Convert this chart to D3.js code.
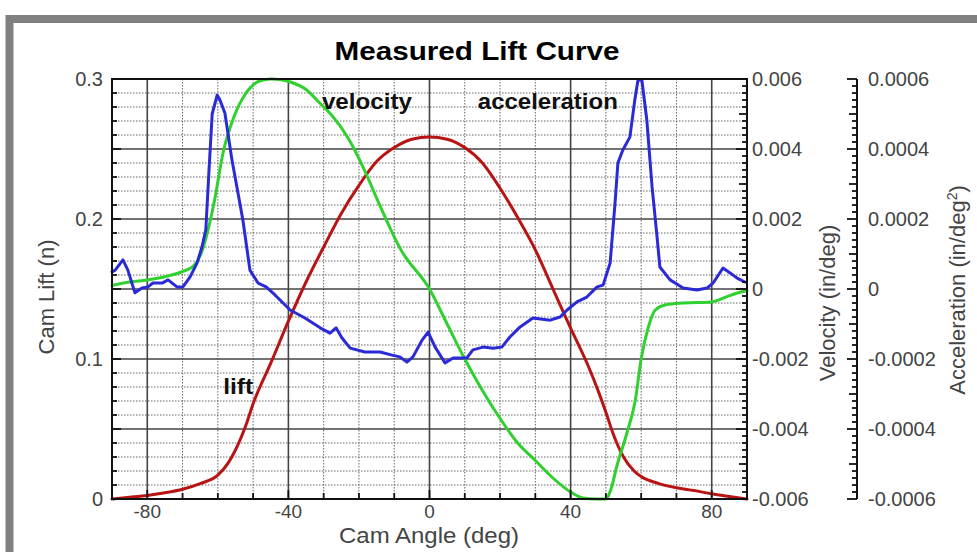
<!DOCTYPE html>
<html>
<head>
<meta charset="utf-8">
<script src="https://cdn.jsdelivr.net/npm/d3@7"></script>
<style>
  html, body { margin: 0; padding: 0; background: #fff; }
  svg { display: block; }
  text { font-family: "Liberation Sans", Arial, sans-serif; }
</style>
</head>
<body>
<svg id="chart" width="977" height="552"></svg>
<script>
// ---------- data ----------
const title = "Measured Lift Curve";
const xTickValues = [-80, -40, 0, 40, 80];
const xTickLabels = ["-80", "-40", "0", "40", "80"];
const liftTickValues = [0, 0.1, 0.2, 0.3];
const liftTickLabels = ["0", "0.1", "0.2", "0.3"];
const velTickValues = [-0.006, -0.004, -0.002, 0, 0.002, 0.004, 0.006];
const velTickLabels = ["-0.006", "-0.004", "-0.002", "0", "0.002", "0.004", "0.006"];
const accTickValues = [-0.0006, -0.0004, -0.0002, 0, 0.0002, 0.0004, 0.0006];
const accTickLabels = ["-0.0006", "-0.0004", "-0.0002", "0", "0.0002", "0.0004", "0.0006"];

const liftAngle = [-90,-85,-80,-75,-70,-65,-60,-57,-55,-52,-50,-45,-40,-35,-30,-25,-20,-15,-10,-5,0,5,10,15,20,25,30,35,40,45,48,50,52,55,58,60,65,70,75,80,85,90];
const liftValue = [0.000,0.0012,0.0025,0.0045,0.007,0.011,0.017,0.026,0.035,0.053,0.068,0.097,0.127,0.155,0.180,0.204,0.224,0.241,0.251,0.257,0.2586,0.257,0.251,0.240,0.222,0.201,0.178,0.150,0.122,0.095,0.076,0.062,0.047,0.030,0.020,0.016,0.011,0.008,0.006,0.0037,0.0018,0.000];

const velAngle = [-90,-85,-80,-75,-70,-67,-65,-63,-61,-58.5,-55.5,-52,-48,-45,-42,-39,-35,-31,-28,-23,-18,-15,-8,0,5,10,15,20,25,30,35,40,43.5,47,50,51.5,53,56,58.3,60,62,64,67,72,80,84,87,90];
const velValue = [0.00010,0.00020,0.00026,0.00035,0.00050,0.00065,0.00095,0.0016,0.0025,0.0039,0.0049,0.0056,0.00595,0.0060,0.00598,0.0059,0.0057,0.0053,0.0050,0.0043,0.0033,0.0026,0.0011,0.0000,-0.0010,-0.0020,-0.0029,-0.0037,-0.0044,-0.0049,-0.0054,-0.0058,-0.00597,-0.0060,-0.0060,-0.0057,-0.0051,-0.0041,-0.0032,-0.0020,-0.0011,-0.0006,-0.00045,-0.00040,-0.00037,-0.00023,-0.00012,-0.00005];

const accAngle = [-90,-89.1,-86.9,-85.5,-83.5,-81.5,-79.8,-78.4,-75.8,-74.1,-71.6,-69.9,-67.9,-65.9,-64.5,-63.4,-62.5,-61.6,-60.2,-59.4,-58.0,-56.0,-52.9,-50.9,-48.6,-46.3,-43.8,-39.5,-35.3,-31.0,-28.2,-26.5,-24.8,-22.5,-18.3,-14.0,-10.6,-8.4,-6.4,-4.7,-2.1,-0.4,1.6,4.4,6.7,10.6,12.3,15.2,18.0,20.5,22.8,25.6,29.3,34.2,37.0,39.0,41.8,44.6,47.5,49.2,51.2,52.6,53.4,54.8,56.8,58.2,59.1,60.2,61.6,63.1,64.5,65.3,68.2,71.9,75.8,78.7,80.4,83.2,85.2,87.2,89.4];
const accValue = [0.000049,0.000054,0.000083,0.000054,-0.000011,0.000003,0.000006,0.000017,0.000017,0.000026,0.000006,0.000006,0.000034,0.000074,0.00012,0.00017,0.00034,0.0005,0.000554,0.00054,0.000503,0.000369,0.000197,0.000054,0.000017,0.000006,-0.000017,-0.00006,-0.000083,-0.000111,-0.000126,-0.000111,-0.00014,-0.000169,-0.00018,-0.00018,-0.000189,-0.000194,-0.000209,-0.000194,-0.000146,-0.000123,-0.000166,-0.000211,-0.000197,-0.000197,-0.000174,-0.000166,-0.000169,-0.000166,-0.000137,-0.000109,-0.000083,-0.000089,-0.00008,-0.00006,-0.000037,-0.000023,0.000006,0.000011,0.000074,0.000246,0.00036,0.000397,0.000434,0.00054,0.000597,0.000597,0.000483,0.000291,0.000149,0.000063,0.000026,0.000003,-0.000003,0.000003,0.000017,0.00006,0.000046,0.000031,0.00002];

const curveLabels = [
  { text: "velocity", deg: -30.5, lift: 0.2785, len: 90 },
  { text: "acceleration", deg: 13.7, lift: 0.2785, len: 140 },
  { text: "lift", deg: -58.5, lift: 0.075, len: 30 }
];

// ---------- layout ----------
const svg = d3.select("#chart");
const L = 112, R = 747, T = 79, B = 499;
const accAxisX = 857;

const x = d3.scaleLinear().domain([-90, 90]).range([L, R]);
const yL = d3.scaleLinear().domain([0, 0.3]).range([B, T]);
const yV = d3.scaleLinear().domain([-0.006, 0.006]).range([B, T]);
const yA = d3.scaleLinear().domain([-0.0006, 0.0006]).range([B, T]);

// outer gray frame (cut off on right & bottom)
svg.append("rect").attr("x", 9.5).attr("y", 19).attr("width", 1100).attr("height", 700)
  .attr("fill", "#fff").attr("stroke", "#808080").attr("stroke-width", 8);

// title
svg.append("text").attr("x", 477).attr("y", 60).attr("text-anchor", "middle")
  .attr("font-size", 25).attr("font-weight", "bold").attr("fill", "#000")
  .attr("textLength", 285).attr("lengthAdjust", "spacingAndGlyphs")
  .text(title);

// ---------- grid ----------
const grid = svg.append("g");
const minorX = d3.range(-80, 90, 10).filter(d => d % 40 !== 0);
const majorX = d3.range(-80, 90, 40);
const minorY = d3.range(1, 30).map(d => d / 100).filter(d => Math.round(d * 100) % 5 !== 0);
const majorY = d3.range(1, 6).map(d => d * 0.05);

grid.selectAll(".vminor").data(minorX).join("line")
  .attr("x1", d => x(d)).attr("x2", d => x(d)).attr("y1", T).attr("y2", B)
  .attr("stroke", "#666").attr("stroke-width", 1).attr("stroke-dasharray", "1.5,1.5");
grid.selectAll(".hminor").data(minorY).join("line")
  .attr("x1", L).attr("x2", R).attr("y1", d => yL(d)).attr("y2", d => yL(d))
  .attr("stroke", "#666").attr("stroke-width", 1).attr("stroke-dasharray", "1.5,1.5");
grid.selectAll(".vmajor").data(majorX).join("line")
  .attr("x1", d => x(d)).attr("x2", d => x(d)).attr("y1", T).attr("y2", B)
  .attr("stroke", "#444").attr("stroke-width", 1.6);
grid.selectAll(".hmajor").data(majorY).join("line")
  .attr("x1", L).attr("x2", R).attr("y1", d => yL(d)).attr("y2", d => yL(d))
  .attr("stroke", "#444").attr("stroke-width", 1.6);

// ---------- curves ----------
function series(angles, values, yScale, color, curve) {
  const pts = angles.map((a, i) => [a, values[i]]);
  svg.append("path").datum(pts)
    .attr("fill", "none").attr("stroke", color).attr("stroke-width", 3)
    .attr("stroke-linejoin", "round").attr("stroke-linecap", "round")
    .attr("d", d3.line().x(d => x(d[0])).y(d => yScale(d[1])).curve(curve));
}
series(liftAngle, liftValue, yL, "#b81414", d3.curveMonotoneX);
series(velAngle, velValue, yV, "#2fd02f", d3.curveMonotoneX);
series(accAngle, accValue, yA, "#2a2ad6", d3.curveLinear);

// ---------- axes ----------
const axisColor = "#111";
svg.append("rect").attr("x", L).attr("y", T).attr("width", R - L).attr("height", B - T)
  .attr("fill", "none").attr("stroke", axisColor).attr("stroke-width", 2);

// bottom ticks (inward)
const xt = svg.append("g");
xt.selectAll("line").data(d3.range(-90, 91, 10)).join("line")
  .attr("x1", d => x(d)).attr("x2", d => x(d)).attr("y1", B)
  .attr("y2", d => B - (d % 40 === 0 ? 9 : 6))
  .attr("stroke", axisColor).attr("stroke-width", 1.8);
xt.selectAll("text").data(xTickValues).join("text")
  .attr("x", d => x(d)).attr("y", 518).attr("text-anchor", "middle")
  .attr("font-size", 19).attr("fill", "#444").text((d, i) => xTickLabels[i]);

// left ticks
const lt = svg.append("g");
lt.selectAll("line").data(d3.range(0, 31).map(d => d / 100)).join("line")
  .attr("x1", L).attr("x2", d => L + (Math.round(d * 100) % 5 === 0 ? 9 : 5))
  .attr("y1", d => yL(d)).attr("y2", d => yL(d))
  .attr("stroke", axisColor).attr("stroke-width", 1.8);
lt.selectAll("text").data(liftTickValues).join("text")
  .attr("x", 103).attr("y", d => yL(d) + 7).attr("text-anchor", "end")
  .attr("font-size", 20).attr("fill", "#444").text((d, i) => liftTickLabels[i]);

// velocity ticks (right, inward)
const vt = svg.append("g");
vt.selectAll("line").data(d3.range(-30, 31).map(d => d * 0.0002)).join("line")
  .attr("x1", R).attr("x2", (d, i) => R - ((i - 30) % 10 === 0 ? 11 : ((i - 30) % 5 === 0 ? 8 : 5)))
  .attr("y1", d => yV(d)).attr("y2", d => yV(d))
  .attr("stroke", axisColor).attr("stroke-width", 1.8);
vt.selectAll("text").data(velTickValues).join("text")
  .attr("x", 752).attr("y", d => yV(d) + 7).attr("text-anchor", "start")
  .attr("font-size", 20).attr("fill", "#444").text((d, i) => velTickLabels[i]);

// acceleration axis
const at = svg.append("g");
at.append("line").attr("x1", accAxisX).attr("x2", accAxisX).attr("y1", T).attr("y2", B)
  .attr("stroke", axisColor).attr("stroke-width", 2);
at.selectAll("line.t").data(d3.range(-30, 31).map(d => d * 0.00002)).join("line")
  .attr("class", "t")
  .attr("x1", accAxisX).attr("x2", (d, i) => accAxisX - ((i - 30) % 10 === 0 ? 10 : ((i - 30) % 5 === 0 ? 8 : 5)))
  .attr("y1", d => yA(d)).attr("y2", d => yA(d))
  .attr("stroke", axisColor).attr("stroke-width", 1.8);
at.selectAll("text").data(accTickValues).join("text")
  .attr("x", 868).attr("y", d => yA(d) + 7).attr("text-anchor", "start")
  .attr("font-size", 20).attr("fill", "#444").text((d, i) => accTickLabels[i]);

// axis titles
svg.append("text").attr("x", 429).attr("y", 543).attr("text-anchor", "middle")
  .attr("font-size", 22).attr("fill", "#444")
  .attr("textLength", 180).attr("lengthAdjust", "spacingAndGlyphs").text("Cam Angle (deg)");
svg.append("text").attr("transform", "translate(54,297) rotate(-90)").attr("text-anchor", "middle")
  .attr("font-size", 22).attr("fill", "#444").text("Cam Lift (n)");
svg.append("text").attr("transform", "translate(835,303) rotate(-90)").attr("text-anchor", "middle")
  .attr("font-size", 22).attr("fill", "#444").text("Velocity (in/deg)");
const accTitle = svg.append("text").attr("transform", "translate(965,290) rotate(-90)")
  .attr("text-anchor", "middle").attr("font-size", 22).attr("fill", "#444");
accTitle.append("tspan").text("Acceleration (in/deg");
accTitle.append("tspan").attr("dy", -8).attr("font-size", 14).text("2");
accTitle.append("tspan").attr("dy", 8).text(")");

// curve labels
svg.selectAll(".clabel").data(curveLabels).join("text")
  .attr("x", d => x(d.deg)).attr("y", d => yL(d.lift)).attr("text-anchor", "start")
  .attr("font-size", 22).attr("font-weight", "bold").attr("fill", "#111")
  .attr("textLength", d => d.len).attr("lengthAdjust", "spacingAndGlyphs")
  .text(d => d.text);
</script>
</body>
</html>
